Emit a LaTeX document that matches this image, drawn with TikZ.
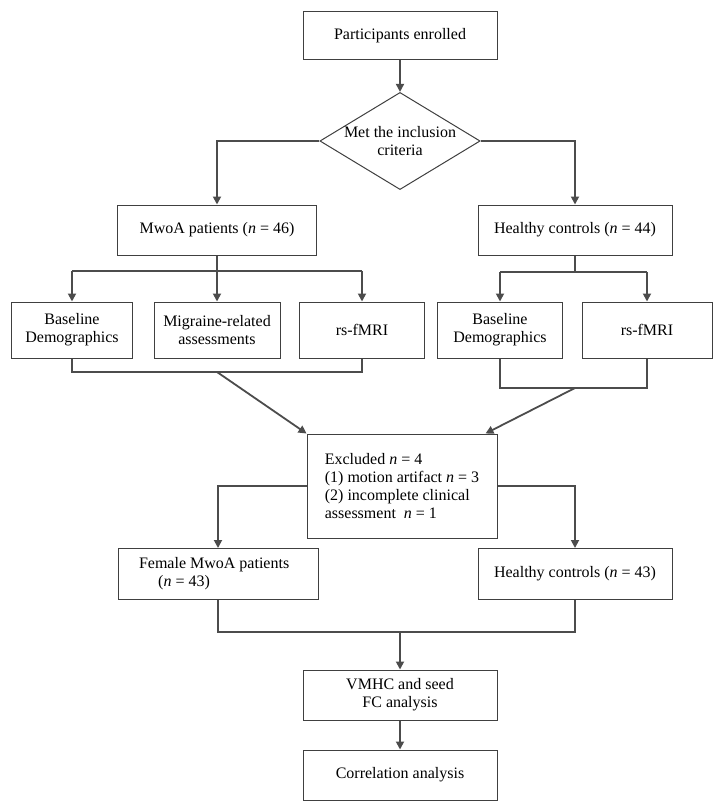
\documentclass[tikz,border=0pt]{standalone}
\usepackage{fontspec}
\setmainfont{Liberation Serif}
\usetikzlibrary{shapes.geometric,arrows.meta}
\begin{document}
\begin{tikzpicture}[x=1pt,y=-1pt,
  box/.style={draw=black!75,line width=1pt,fill=white,align=center,inner sep=2pt,font=\fontsize{16}{18}\selectfont},
  ln/.style={draw=black!70,line width=1.8pt},
  ar/.style={ln,-{Triangle[length=8pt,width=8pt]}}]
\useasboundingbox (0,0) rectangle (723,805);
\node[box,minimum width=194pt,minimum height=48pt] (p) at (400,36) {Participants enrolled};
\node[box,diamond,aspect=1.65,minimum width=156pt,minimum height=92pt,inner sep=0pt] (d) at (400,141) {Met the inclusion\\criteria};
\node[box,minimum width=199pt,minimum height=50pt] (m) at (217,230) {MwoA patients (\textit{n} = 46)};
\node[box,minimum width=194pt,minimum height=50pt] (h) at (575,230) {Healthy controls (\textit{n} = 44)};
\node[box,minimum width=121pt,minimum height=56pt] (b1) at (72,330) {Baseline\\Demographics};
\node[box,minimum width=126pt,minimum height=56pt] (mr) at (217,330) {Migraine-related\\assessments};
\node[box,minimum width=125pt,minimum height=56pt] (r1) at (362,330) {rs-fMRI};
\node[box,minimum width=125pt,minimum height=56pt] (b2) at (500,330) {Baseline\\Demographics};
\node[box,minimum width=130pt,minimum height=56pt] (r2) at (647,330) {rs-fMRI};
\node[box,minimum width=190pt,minimum height=104pt,align=left] (e) at (402,486) {Excluded \textit{n} = 4\\(1) motion artifact \textit{n} = 3\\(2) incomplete clinical\\assessment\ \ \textit{n} = 1};
\node[box,minimum width=200pt,minimum height=51pt] (f) at (218,574) {};
\node[font=\fontsize{16}{18}\selectfont,align=left,anchor=west] (ft) at ([xshift=18pt]f.west) {Female MwoA patients\\\hspace*{1.2em}(\textit{n} = 43)};
\node[box,minimum width=194pt,minimum height=51pt] (h2) at (575,574) {Healthy controls (\textit{n} = 43)};
\node[box,minimum width=194pt,minimum height=50pt] (v) at (400,695) {VMHC and seed\\FC analysis};
\node[box,minimum width=194pt,minimum height=50pt] (c) at (400,775) {Correlation analysis};
\coordinate (j1) at (217,271); \coordinate (j2) at (575,272);
\coordinate (k1) at (217,372); \coordinate (k2) at (575,388);
\coordinate (q) at (400,632);
\draw[ar] (p) -- (d);
\draw[ar] (d.west) -| (m.north);
\draw[ar] (d.east) -| (h.north);
\draw[ln] (m.south) -- (j1);
\draw[ln] (72,271) -- (362,271);
\draw[ar] (72,271) -- (b1.north);
\draw[ar] (j1) -- (mr.north);
\draw[ar] (362,271) -- (r1.north);
\draw[ln] (h.south) -- (j2);
\draw[ln] (500,272) -- (647,272);
\draw[ar] (500,272) -- (b2.north);
\draw[ar] (647,272) -- (r2.north);
\draw[ln] (b1.south) -- (72,372) -- (362,372) -- (r1.south);
\draw[ln] (b2.south) -- (500,388) -- (647,388) -- (r2.south);
\draw[ar] (k1) -- (e.north west);
\draw[ar] (k2) -- ([xshift=-12pt]e.north east);
\draw[ar] (e.west) -| (f.north);
\draw[ar] (e.east) -| (h2.north);
\draw[ln] (f.south) -- (218,632) -- (575,632) -- (h2.south);
\draw[ar] (q) -- (v.north);
\draw[ar] (v) -- (c);
\end{tikzpicture}
\end{document}
